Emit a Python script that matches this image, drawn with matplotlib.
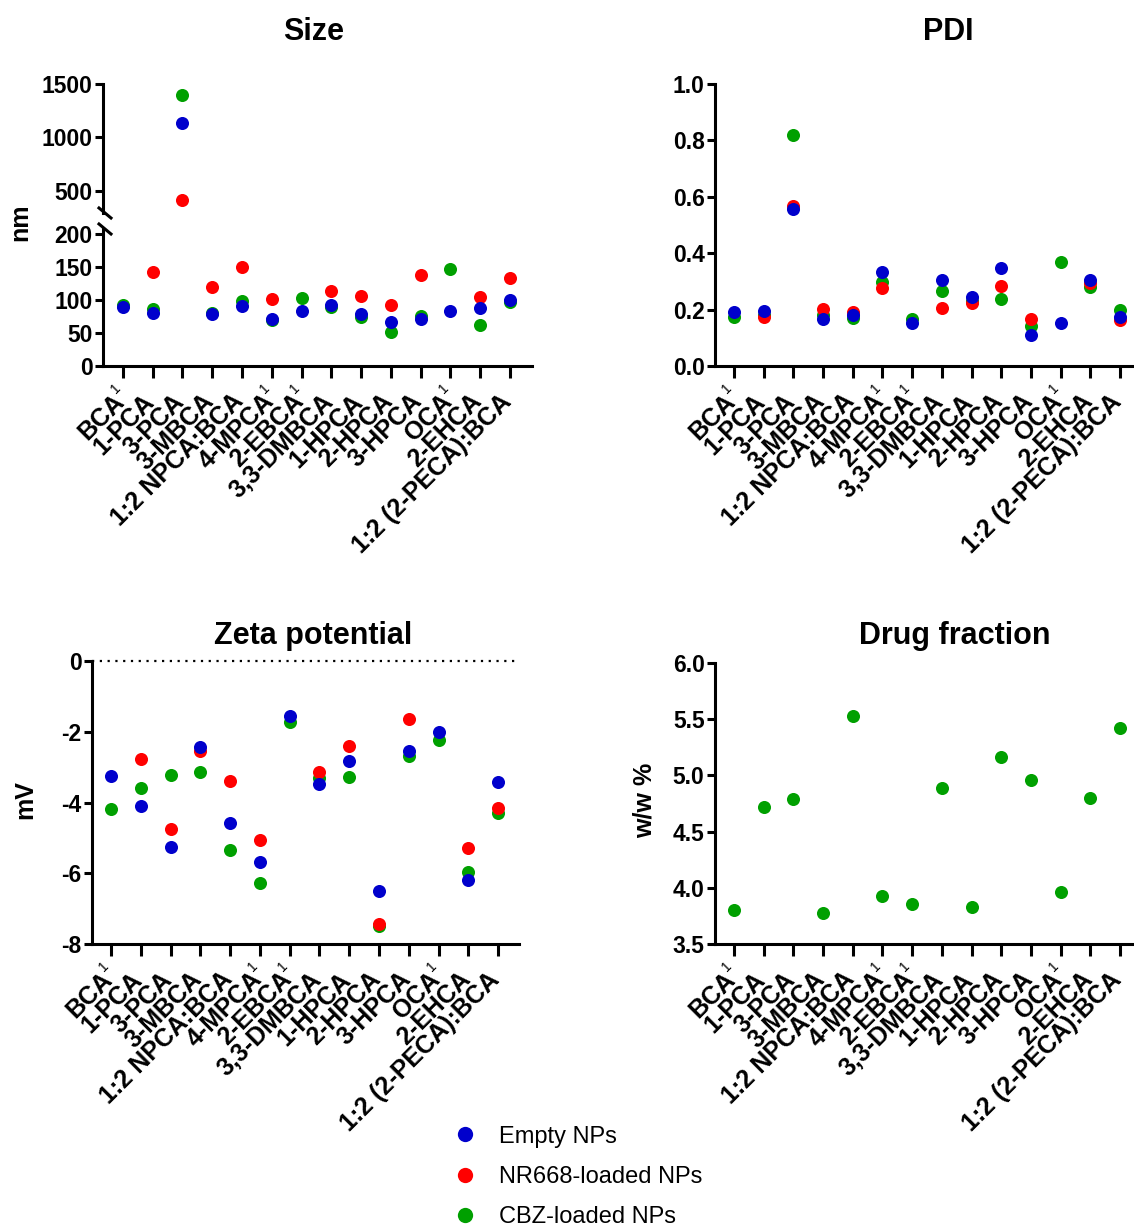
import numpy as np
import matplotlib
matplotlib.use("Agg")
import matplotlib.pyplot as plt
from matplotlib.lines import Line2D
from matplotlib.transforms import ScaledTranslation

plt.rcParams['font.family'] = ['Liberation Sans', 'DejaVu Sans']
plt.rcParams['font.weight'] = 'bold'
plt.rcParams['axes.unicode_minus'] = False

# ---------------- data ----------------
formulations = ['BCA', '1-PCA', '3-PCA', '3-MBCA', '1:2 NPCA:BCA',
                '4-MPCA', '2-EBCA', '3,3-DMBCA', '1-HPCA', '2-HPCA',
                '3-HPCA', 'OCA', '2-EHCA', '1:2 (2-PECA):BCA']
footnotes = ['1', '', '', '', '', '1', '1', '', '', '', '', '1', '', '']

series_names = ['Empty NPs', 'NR668-loaded NPs', 'CBZ-loaded NPs']
series_colors = ['#0000cc', '#ff0000', '#00a000']

nan = np.nan
size_empty = [89, 80, 1138, 79, 91, 71, 84, 92, 79, 66, 71, 84, 88, 100]
size_nr668 = [nan, 142, 413, 119, 150, 102, nan, 113, 106, 93, 138, nan, 104, 133]
size_cbz = [92, 86, 1400, 81, 98, 69, 103, 89, 74, 52, 76, 147, 62, 97]

pdi_empty = [0.190, 0.196, 0.557, 0.168, 0.180, 0.335, 0.154, 0.306, 0.244, 0.346, 0.111, 0.151, 0.306, 0.175]
pdi_nr668 = [nan, 0.175, 0.569, 0.203, 0.193, 0.278, nan, 0.206, 0.225, 0.285, 0.167, nan, 0.296, 0.163]
pdi_cbz = [0.173, 0.180, 0.819, 0.181, 0.169, 0.299, 0.167, 0.267, 0.232, 0.236, 0.142, 0.368, 0.281, 0.197]

zeta_empty = [-3.25, -4.10, -5.25, -2.43, -4.59, -5.68, -1.55, -3.48, -2.82, -6.49, -2.54, -2.00, -6.19, -3.42]
zeta_nr668 = [nan, -2.78, -4.74, -2.55, -3.38, -5.06, nan, -3.13, -2.41, -7.44, -1.65, nan, -5.29, -4.15]
zeta_cbz = [-4.17, -3.59, -3.21, -3.15, -5.35, -6.28, -1.73, -3.32, -3.28, -7.49, -2.68, -2.23, -5.96, -4.29]

drug_cbz = [3.80, 4.72, 4.79, 3.78, 5.53, 3.93, 3.86, 4.89, 3.83, 5.16, 4.96, 3.96, 4.80, 5.42]

W, H = 1134, 1229
fig = plt.figure(figsize=(W / 100, H / 100), dpi=100)


def px_axes(x0, y0, x1, y1):
    return fig.add_axes([x0 / W, 1 - y1 / H, (x1 - x0) / W, (y1 - y0) / H])


def px_shift(dx, dy):
    # shift in screen pixels (dy positive = down)
    return ScaledTranslation(dx / 100, -dy / 100, fig.dpi_scale_trans)


def style(ax, bottom=True):
    for s in ['top', 'right']:
        ax.spines[s].set_visible(False)
    ax.spines['left'].set_linewidth(2.2)
    ax.spines['bottom'].set_linewidth(2.2)
    ax.spines['bottom'].set_visible(bottom)
    ax.tick_params(axis='y', width=2.2, length=5.5, labelsize=16.5, pad=2)
    ax.tick_params(axis='x', width=2.2, length=8.5, labelsize=18, pad=18)
    for lab in ax.get_yticklabels():
        lab.set_fontweight('bold')


def xlabels(ax):
    x = np.arange(len(formulations))
    ax.set_xticks(x)
    ax.set_xticklabels(formulations, rotation=45, ha='right', va='baseline',
                       rotation_mode='anchor', fontweight='bold')
    for lab in ax.get_xticklabels():
        lab.set_transform(lab.get_transform() + px_shift(3, 0))
    # superscript reference marks, raised above the end of the label
    for xi, note in zip(x, footnotes):
        if note:
            ax.text(xi, 0, note, transform=ax.get_xaxis_transform() + px_shift(-7, 22),
                    rotation=45, rotation_mode='anchor', ha='center', va='center',
                    fontsize=10, fontweight='normal', clip_on=False)


def dots(ax, groups):
    x = np.arange(len(formulations))
    # green underneath, then red, blue on top
    for i in [2, 1, 0]:
        if groups[i] is None:
            continue
        ax.plot(x, groups[i], 'o', color=series_colors[i], markersize=9.4,
                markeredgewidth=0, linestyle='none', zorder=3 + (2 - i), clip_on=False)


# ---------------- Size (broken axis) ----------------
ax_up = px_axes(103, 84, 532, 213)
ax_lo = px_axes(103, 229, 532, 366)
for ax in (ax_up, ax_lo):
    dots(ax, [size_empty, size_nr668, size_cbz])
    ax.set_xlim(-0.67, 13.74)
ax_up.set_ylim(294, 1500)
ax_up.set_yticks([500, 1000, 1500])
ax_lo.set_ylim(0, 207.6)
ax_lo.set_yticks([0, 50, 100, 150, 200])
# each segment only shows its own points
for ln in ax_up.lines + ax_lo.lines:
    ln.set_clip_on(True)
style(ax_up, bottom=False)
ax_up.set_xticks([])
style(ax_lo)
xlabels(ax_lo)
for yb in (213, 229):
    fig.add_artist(Line2D([99 / W, 111 / W], [1 - (yb - 5) / H, 1 - (yb + 5) / H],
                          color='black', lw=2.2, transform=fig.transFigure))
fig.text(20 / W, 1 - 222 / H, 'nm', rotation=90, ha='center', va='center',
         fontsize=18, fontweight='bold')
fig.text(314 / W, 1 - 32 / H, 'Size', ha='center', va='center', fontsize=22, fontweight='bold')

# ---------------- PDI ----------------
ax_pdi = px_axes(715, 84, 1134, 366)
dots(ax_pdi, [pdi_empty, pdi_nr668, pdi_cbz])
ax_pdi.set_xlim(-0.64, 13.47)
ax_pdi.set_ylim(0, 1.0)
ax_pdi.set_yticks(np.arange(0, 1.01, 0.2))
ax_pdi.yaxis.set_major_formatter(matplotlib.ticker.FormatStrFormatter('%.1f'))
style(ax_pdi)
xlabels(ax_pdi)
fig.text(948 / W, 1 - 32 / H, 'PDI', ha='center', va='center', fontsize=22, fontweight='bold')

# ---------------- Zeta potential ----------------
ax_z = px_axes(92, 661, 519, 944)
dots(ax_z, [zeta_empty, zeta_nr668, zeta_cbz])
ax_z.set_xlim(-0.64, 13.7)
ax_z.set_ylim(-8, 0)
ax_z.set_yticks([-8, -6, -4, -2, 0])
ax_z.axhline(0, color='black', lw=1.6, ls=(0, (1, 2.5)), clip_on=False, zorder=1)
style(ax_z)
xlabels(ax_z)
fig.text(25 / W, 1 - 800 / H, 'mV', rotation=90, ha='center', va='center',
         fontsize=18, fontweight='bold')
fig.text(313 / W, 1 - 636 / H, 'Zeta potential', ha='center', va='center',
         fontsize=22, fontweight='bold')

# ---------------- Drug fraction ----------------
ax_d = px_axes(715, 663, 1134, 944)
dots(ax_d, [None, None, drug_cbz])
ax_d.set_xlim(-0.64, 13.47)
ax_d.set_ylim(3.5, 6.0)
ax_d.set_yticks(np.arange(3.5, 6.01, 0.5))
ax_d.yaxis.set_major_formatter(matplotlib.ticker.FormatStrFormatter('%.1f'))
style(ax_d)
xlabels(ax_d)
fig.text(645 / W, 1 - 800 / H, 'w/w %', rotation=90, ha='center', va='center',
         fontsize=18, fontweight='bold')
fig.text(955 / W, 1 - 636 / H, 'Drug fraction', ha='center', va='center',
         fontsize=22, fontweight='bold')

# ---------------- legend ----------------
handles = [Line2D([], [], marker='o', linestyle='none', color=c, markersize=11,
                  markeredgewidth=0) for c in series_colors]
leg = fig.legend(handles, series_names, loc='center left',
                 bbox_to_anchor=(453 / W, 1 - 1177 / H), frameon=False,
                 borderpad=0, borderaxespad=0, handlelength=1.0, handletextpad=0.95,
                 labelspacing=0.78, prop={'size': 17, 'weight': 'normal'})

fig.savefig('out.png', dpi=100)
